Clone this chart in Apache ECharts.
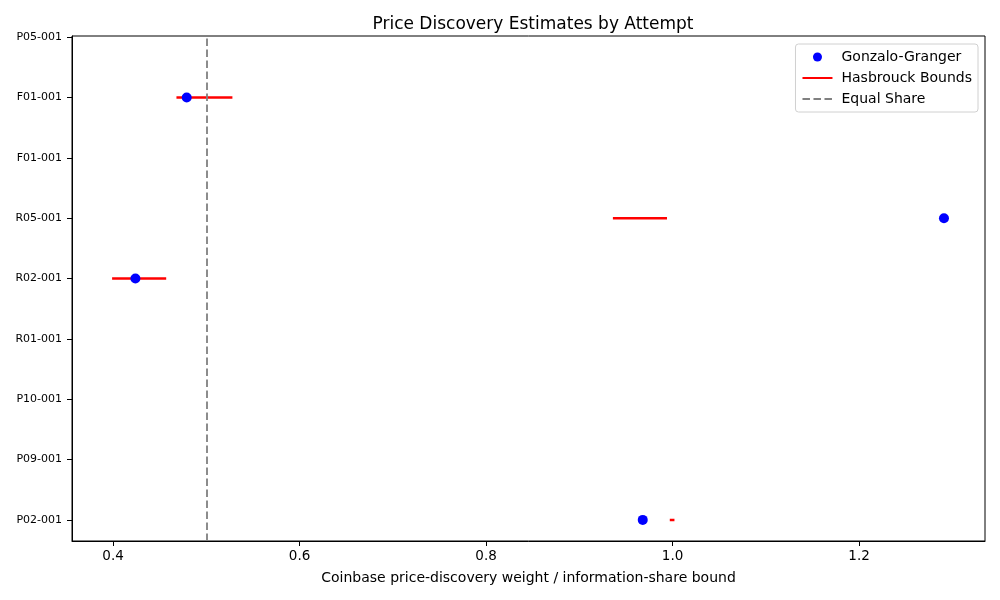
<!DOCTYPE html>
<html>
<head>
<meta charset="utf-8">
<script src="https://cdn.jsdelivr.net/npm/echarts@6/dist/echarts.min.js"></script>
<style>
  html, body { margin: 0; padding: 0; background: #fff; }
  #chart { width: 1000px; height: 600px; }
</style>
</head>
<body>
<div id="chart"></div>
<script>
// attempts from bottom to top of the y axis
const attempts = ['P02-001', 'P09-001', 'P10-001', 'R01-001', 'R02-001', 'R05-001', 'F01-001', 'F01-001', 'P05-001'];
// Gonzalo-Granger weight per attempt (null = no estimate)
const ggValues = [0.968, null, null, null, 0.424, 1.291, null, 0.479, null];
// Hasbrouck information-share bounds
const hbLower = [0.997, null, null, null, 0.399, 0.936, null, 0.468, null];
const hbUpper = [1.002, null, null, null, 0.457, 0.994, null, 0.528, null];
const equalShare = 0.5;
const xTicks = [0.4, 0.6, 0.8, 1.0, 1.2];

const font = 'DejaVu Sans';
const chart = echarts.init(document.getElementById('chart'));

const ggData = [];
ggValues.forEach((v, i) => { if (v !== null) ggData.push([v, i]); });

// one series per bound segment, same name so the legend merges them
const hbSeries = [];
hbLower.forEach((lo, i) => {
  if (lo === null) return;
  hbSeries.push({
    name: 'Hasbrouck Bounds',
    type: 'line',
    symbol: 'none',
    z: 3,
    lineStyle: { color: '#ff0000', width: 2.5 },
    itemStyle: { color: '#ff0000' },
    data: [[lo, i], [hbUpper[i], i]]
  });
});

const option = {
  animation: false,
  textStyle: { fontFamily: font },
  title: {
    text: 'Price Discovery Estimates by Attempt',
    left: 528,
    textAlign: 'center',
    top: 11,
    textStyle: { fontFamily: font, fontSize: 17, fontWeight: 'normal', color: '#000' }
  },
  legend: {
    orient: 'vertical',
    right: 22,
    top: 44,
    padding: [6, 6, 6, 6],
    itemGap: 7,
    itemWidth: 30,
    itemHeight: 9,
    borderColor: '#d0d0d0',
    borderWidth: 1,
    borderRadius: 3,
    backgroundColor: 'rgba(255,255,255,0.8)',
    textStyle: { fontFamily: font, fontSize: 14, color: '#000', padding: [0, 0, 0, 4] },
    data: [
      { name: 'Gonzalo-Granger' },
      { name: 'Hasbrouck Bounds', itemStyle: { opacity: 0 } },
      { name: 'Equal Share', itemStyle: { opacity: 0 } }
    ]
  },
  grid: {
    left: 72, right: 15, top: 36, bottom: 59,
    show: true, borderColor: '#000', borderWidth: 1
  },
  xAxis: {
    type: 'value',
    min: 0.356,
    max: 1.335,
    name: 'Coinbase price-discovery weight / information-share bound',
    nameLocation: 'middle',
    nameGap: 30,
    nameTextStyle: { fontFamily: font, fontSize: 14, color: '#000' },
    axisLine: { show: true, onZero: false, lineStyle: { color: '#000' } },
    axisTick: { show: true, length: 5, customValues: xTicks, lineStyle: { color: '#000' } },
    axisLabel: {
      customValues: xTicks,
      margin: 8,
      fontFamily: font, fontSize: 13.5, color: '#000',
      formatter: v => v.toFixed(1)
    },
    splitLine: { show: false }
  },
  yAxis: {
    type: 'value',
    min: -0.35,
    max: 8.02,
    axisLine: { show: true, onZero: false, lineStyle: { color: '#000' } },
    axisTick: { show: true, length: 5, customValues: attempts.map((a, i) => i), lineStyle: { color: '#000' } },
    axisLabel: {
      customValues: attempts.map((a, i) => i),
      margin: 10,
      fontFamily: font, fontSize: 11, color: '#000',
      formatter: v => attempts[Math.round(v)]
    },
    splitLine: { show: false }
  },
  series: [
    {
      name: 'Gonzalo-Granger',
      type: 'scatter',
      symbol: 'circle',
      symbolSize: 10,
      z: 4,
      itemStyle: { color: '#0000ff', opacity: 1 },
      data: ggData
    },
    ...hbSeries,
    {
      name: 'Equal Share',
      type: 'line',
      symbol: 'none',
      data: [],
      lineStyle: { color: '#808080', width: 1.8, type: [7.5, 3.5] },
      itemStyle: { color: '#808080' },
      markLine: {
        silent: true,
        symbol: 'none',
        label: { show: false },
        lineStyle: { color: '#808080', width: 1.8, type: [7.5, 3.5] },
        data: [{ xAxis: equalShare }]
      }
    }
  ]
};

chart.setOption(option);
</script>
</body>
</html>
